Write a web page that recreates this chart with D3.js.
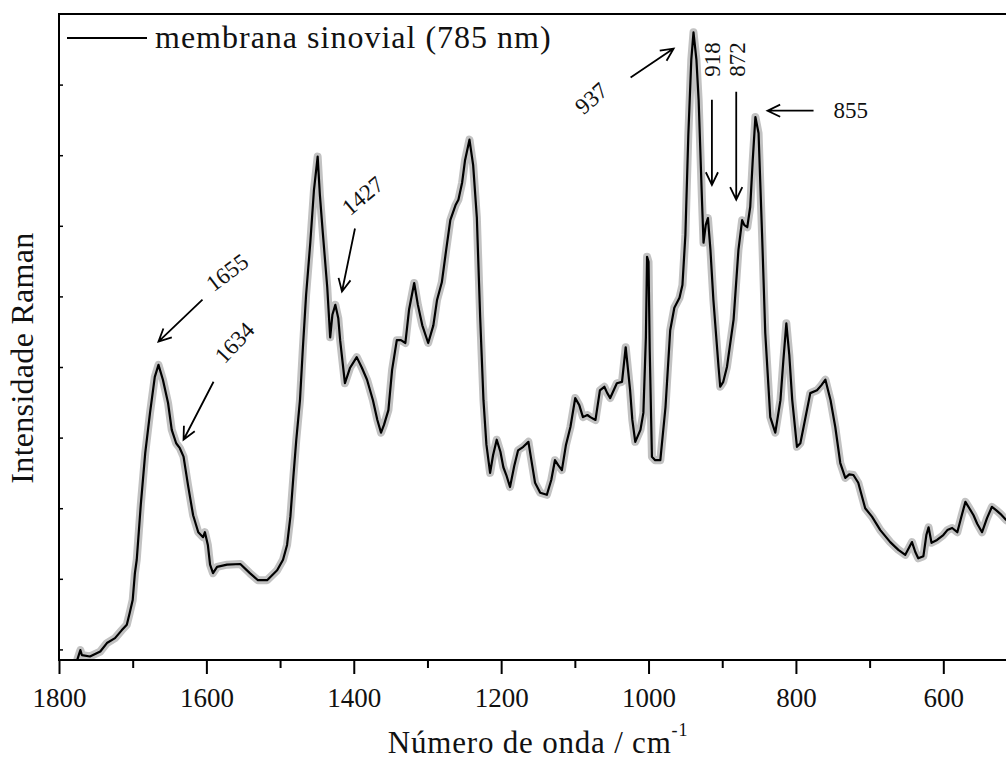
<!DOCTYPE html>
<html><head><meta charset="utf-8">
<script src="https://cdn.jsdelivr.net/npm/d3@7"></script>
<style>body{margin:0;background:#fff}svg{display:block}text{font-family:"Liberation Serif","Times New Roman",serif;fill:#111}</style>
</head><body>
<svg id="chart" width="1006" height="762"></svg>
<script>
// ---- data ----
const wavenumbers = [1775,1771,1769,1758,1744,1735,1724,1715,1708,1704,1700,1697,1694.5,1689,1683,1676.5,1670,1665,1659,1652,1647,1641,1636,1631,1625,1618,1611,1604.5,1602,1598,1595,1591,1585.5,1572,1554,1541,1530,1517.6,1504,1496,1490.5,1486,1482,1478,1473,1469,1464.7,1459,1454,1449,1446,1442,1436,1432,1429,1425,1421,1418.5,1412,1405,1396,1389,1382,1374,1368,1363,1359,1353,1348,1341.6,1336,1330,1325,1318,1313,1307,1299,1292,1287,1280.5,1274.6,1269,1262,1258,1253,1249,1243,1238,1233,1228.5,1224,1220,1215,1211,1206,1201,1197,1193,1188,1182,1177,1170,1163,1159,1154,1147,1138,1132,1127,1122.6,1117.6,1112,1106,1099.5,1094,1089,1083,1079,1072,1066,1060,1056,1052,1043,1036,1031,1025,1022,1018,1011,1007,1003.6,1002,1000,998.4,995.4,991,984,977,970.6,965,958,954,950,946,942,939,935,932,927.5,925.4,922.4,919.4,916,912,905,902.7,898.6,893.6,884.6,878,873,870,866,862,858.6,855,850.7,846,841.6,834.8,828,821,817,813,809,805,798.6,794,789.6,780.5,771.4,765.6,760,753,746.6,739.8,733,727.6,722,715.4,706,696.8,685.5,672,661,651.6,642.5,638,634,627,623,620,616,608.5,600,594.5,588,581,575.5,570,564.7,559,554,547.4,540.7,534,528,522.6,514.4];
const intensities = [-0.14,-0.01,-0.08,-0.10,-0.03,0.09,0.16,0.27,0.35,0.52,0.70,1.08,1.27,2.05,2.78,3.35,3.86,4.03,3.82,3.49,3.11,2.92,2.85,2.73,2.33,1.90,1.66,1.59,1.66,1.48,1.20,1.08,1.17,1.20,1.21,1.08,0.98,0.98,1.12,1.27,1.48,1.88,2.44,2.97,3.53,4.28,5.02,5.76,6.51,6.98,6.44,5.90,5.13,4.42,4.74,4.88,4.69,4.38,3.77,3.99,4.14,3.99,3.82,3.53,3.25,3.07,3.18,3.39,3.96,4.38,4.38,4.34,4.81,5.19,4.88,4.59,4.34,4.59,4.95,5.20,5.66,6.08,6.29,6.37,6.61,6.93,7.22,6.86,6.12,4.71,3.53,2.90,2.50,2.75,2.97,2.80,2.58,2.47,2.30,2.61,2.82,2.87,2.94,2.68,2.36,2.22,2.19,2.40,2.68,2.61,2.54,2.90,3.15,3.56,3.46,3.29,3.32,3.29,3.25,3.67,3.72,3.63,3.56,3.77,3.79,4.28,3.67,3.25,2.94,3.11,3.35,4.42,5.56,5.49,4.24,2.73,2.68,2.68,3.43,4.52,4.84,4.98,5.16,5.87,7.29,8.35,8.74,8.35,7.78,6.37,5.76,6.01,6.11,5.66,4.95,4.00,3.72,3.79,4.00,4.67,5.66,6.08,6.01,5.98,6.27,6.93,7.54,7.31,5.90,4.48,3.29,3.07,3.53,4.10,4.62,4.17,3.53,2.87,2.92,3.15,3.63,3.67,3.74,3.82,3.53,3.15,2.64,2.43,2.48,2.47,2.36,2.00,1.88,1.69,1.52,1.41,1.34,1.52,1.38,1.29,1.32,1.62,1.73,1.51,1.55,1.62,1.69,1.72,1.66,1.88,2.09,2.00,1.90,1.78,1.66,1.86,2.02,1.97,1.92,1.83];
const xTicks = [1800,1600,1400,1200,1000,800,600];
const xMinorTicks = [1700,1500,1300,1100,900,700,500];
const yTicks = [0,1,2,3,4,5,6,7,8];
const legendLabel = "membrana sinovial (785 nm)";
const xTitle = "Número de onda / cm";
const xTitleSup = "-1";
const yTitle = "Intensidade Raman";
const annLabels = ["1655","1634","1427","937","918","872","855"];
const annWavenumbers = [1665,1631,1416,966,914,881,838.5];
const annIntensities = [4.36,2.97,5.07,8.51,6.58,6.37,7.63];

(function(){
// ---- layout ----
const svg = d3.select("#chart");
const pL = 59, pT = 14, pB = 660, pR = 1017;
const x = d3.scaleLinear().domain([1800, 500]).range([pL, pR]);
const y = d3.scaleLinear().domain([-0.15, 9]).range([pB, pT]);

svg.append("defs").append("clipPath").attr("id","clip")
  .append("rect").attr("x",pL).attr("y",pT).attr("width",pR-pL).attr("height",pB-pT);

const pts = wavenumbers.map((w,i)=>[w, intensities[i]]);
const line = d3.line().x(d=>x(d[0])).y(d=>y(d[1]));
const g = svg.append("g").attr("clip-path","url(#clip)");
g.append("path").datum(pts).attr("d",line).attr("fill","none")
  .attr("stroke","#c2c2c2").attr("stroke-width",8).attr("stroke-linejoin","round").attr("stroke-linecap","round");
g.append("path").datum(pts).attr("d",line).attr("fill","none")
  .attr("stroke","#000").attr("stroke-width",2.2).attr("stroke-linejoin","round");

// frame
svg.append("rect").attr("x",pL).attr("y",pT).attr("width",pR-pL).attr("height",pB-pT)
  .attr("fill","none").attr("stroke","#000").attr("stroke-width",2);

// x axis
const xAxis = d3.axisBottom(x).tickValues(xTicks).tickSize(14).tickPadding(14).tickFormat(d3.format("d"));
const xa = svg.append("g").attr("transform",`translate(0,${pB})`).call(xAxis);
xa.select(".domain").remove();
xa.selectAll(".tick line").attr("stroke","#000").attr("stroke-width",2);
xa.selectAll(".tick text").attr("font-size",27).attr("font-family","Liberation Serif").attr("fill","#111");
const xm = svg.append("g").attr("transform",`translate(0,${pB})`)
  .call(d3.axisBottom(x).tickValues(xMinorTicks).tickSize(8).tickFormat(""));
xm.select(".domain").remove();
xm.selectAll(".tick line").attr("stroke","#000").attr("stroke-width",2);

// y axis (inward ticks, no labels)
const ya = svg.append("g").attr("transform",`translate(${pL},0)`)
  .call(d3.axisRight(y).tickValues(yTicks).tickSize(4).tickFormat(""));
ya.select(".domain").remove();
ya.selectAll(".tick line").attr("stroke","#000").attr("stroke-width",1.5);

// axis titles
const xt = svg.append("text").attr("x",(pL+pR)/2).attr("y",753).attr("text-anchor","middle")
  .attr("font-size",31).attr("letter-spacing",0.8);
xt.append("tspan").text(xTitle);
xt.append("tspan").text(xTitleSup).attr("font-size",18).attr("dy",-17);
svg.append("text").attr("transform","translate(33,358) rotate(-90)").attr("text-anchor","middle")
  .attr("font-size",32).attr("letter-spacing",0.3).text(yTitle);

// legend
svg.append("line").attr("x1",67).attr("x2",147).attr("y1",38).attr("y2",38).attr("stroke","#000").attr("stroke-width",2);
svg.append("text").attr("x",155).attr("y",48).attr("font-size",32).attr("letter-spacing",1).text(legendLabel);

// annotations: arrow tail offset, label offset (px, relative to arrow tip) and label rotation
const annLayout = [
  {tx:44, ty:-42, lx:55, ly:-49, rot:-37},
  {tx:30, ty:-58, lx:41, ly:-75, rot:-47},
  {tx:13, ty:-63, lx:8, ly:-75, rot:-40},
  {tx:-43, ty:29, lx:-90, ly:67, rot:-42},
  {tx:0, ty:-85, lx:8, ly:-108, rot:-90},
  {tx:0, ty:-108, lx:9, ly:-123, rot:-90},
  {tx:46, ty:0, lx:66, ly:7, rot:0}
];
annLabels.forEach((lab,i)=>{
  const px = x(annWavenumbers[i]), py = y(annIntensities[i]);
  const L = annLayout[i];
  const sx = px + L.tx, sy = py + L.ty;
  const ang = Math.atan2(py - sy, px - sx);
  const hl = 14, ha = 0.45;
  const w1 = [px - hl*Math.cos(ang-ha), py - hl*Math.sin(ang-ha)];
  const w2 = [px - hl*Math.cos(ang+ha), py - hl*Math.sin(ang+ha)];
  svg.append("path").attr("d",`M${sx},${sy}L${px},${py}M${w1[0]},${w1[1]}L${px},${py}L${w2[0]},${w2[1]}`)
    .attr("fill","none").attr("stroke","#000").attr("stroke-width",1.8);
  svg.append("text").attr("transform",`translate(${px+L.lx},${py+L.ly}) rotate(${L.rot})`)
    .attr("font-size",23).text(lab);
});
})();
</script>
</body></html>
